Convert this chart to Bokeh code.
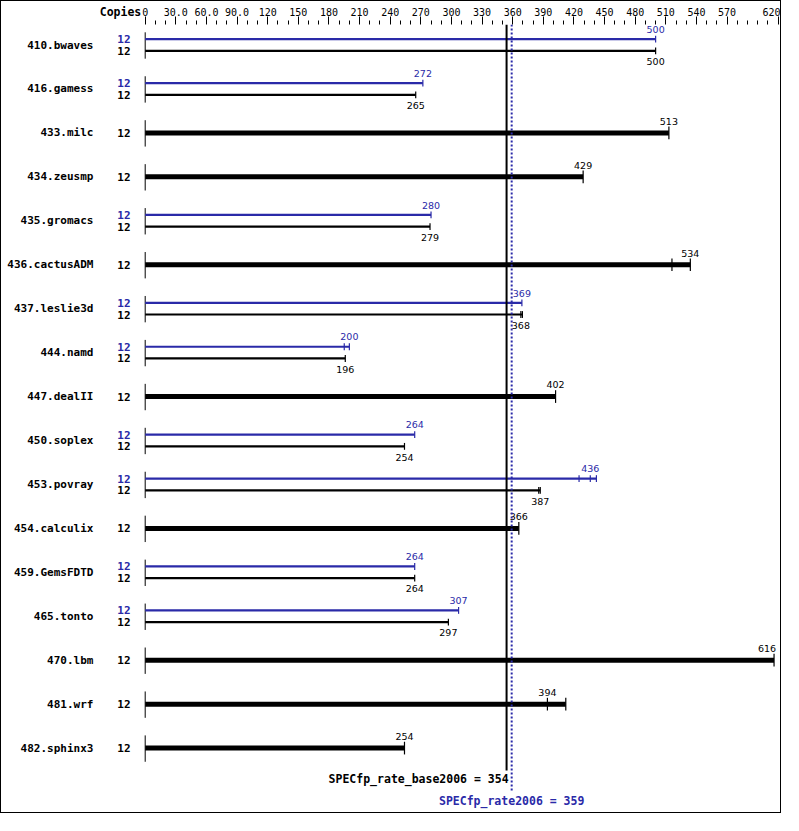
from bokeh.plotting import figure
from bokeh.models import Range1d, FixedTicker, LinearAxis
from bokeh.core.properties import value
from bokeh.embed import file_html
from bokeh.resources import INLINE

# ---- data ----
benchmarks = ["410.bwaves", "416.gamess", "433.milc", "434.zeusmp", "435.gromacs",
              "436.cactusADM", "437.leslie3d", "444.namd", "447.dealII", "450.soplex",
              "453.povray", "454.calculix", "459.GemsFDTD", "465.tonto", "470.lbm",
              "481.wrf", "482.sphinx3"]
base_copies = [12, 12, 12, 12, 12, 12, 12, 12, 12, 12, 12, 12, 12, 12, 12, 12, 12]
peak_copies = [12, 12, None, None, 12, None, 12, 12, None, 12, 12, None, 12, 12, None, None, None]
base_ratio = [500, 265, 513, 429, 279, 534, 368, 196, 402, 254, 387, 366, 264, 297, 616, 394, 254]
peak_ratio = [500, 272, None, None, 280, None, 369, 200, None, 264, 436, None, 264, 307, None, None, None]
# other individual run results (whisker ticks)
base_runs = [[], [], [], [], [], [516], [369.5], [], [], [], [385.5], [], [], [], [], [412], []]
peak_runs = [[], [], [], [], [], [], [], [195], [], [], [425, 442], [], [], [], [], [], []]
base_overall = 354
peak_overall = 359
base_metric = "SPECfp_rate_base2006"
peak_metric = "SPECfp_rate2006"
copies_header = "Copies"
tick_values = [0, 30, 60, 90, 120, 150, 180, 210, 240, 270, 300, 330, 360, 390, 420,
               450, 480, 510, 540, 570, 620]
tick_labels = ["0", "30.0", "60.0", "90.0", "120", "150", "180", "210", "240", "270",
               "300", "330", "360", "390", "420", "450", "480", "510", "540", "570", "620"]
minor_ticks = [v for v in range(10, 620, 10) if v not in tick_values]

BLUE = "#2a2aa8"
BLACK = "#000000"
W, H = 781, 813
S = W / 799.0          # scale from reference pixels to page pixels
PX_PER_UNIT = 1.0444   # reference pixels per ratio unit
ORIGIN = 147           # reference pixel of ratio 0
TOP = 22               # axis band height (reference px)
MONO = value("DejaVu Sans Mono")
SANS = value("DejaVu Sans")
X_MIN = -ORIGIN / PX_PER_UNIT
X_MAX = X_MIN + 799 / PX_PER_UNIT

p = figure(width=W, height=H,
           x_range=Range1d(X_MIN, X_MAX), y_range=Range1d(831, TOP),
           output_backend="svg", toolbar_location=None,
           x_axis_location=None, y_axis_location=None,
           min_border_left=0, min_border_right=0, min_border_bottom=0,
           min_border_top=round(TOP * S))
p.styles = {"border": "1px solid black"}
p.outline_line_color = None
p.grid.visible = False
p.background_fill_color = "white"
p.border_fill_color = "white"

# main top axis: tick marks and value labels
ax = LinearAxis(ticker=FixedTicker(ticks=tick_values, minor_ticks=minor_ticks))
ax.major_label_overrides = {v: l for v, l in zip(tick_values, tick_labels)}
ax.axis_line_color = None
ax.major_tick_out = 8
ax.major_tick_in = 0
ax.minor_tick_out = 4
ax.minor_tick_in = 0
ax.major_tick_line_color = BLACK
ax.minor_tick_line_color = BLACK
ax.major_label_standoff = 1
ax.major_label_text_font = "DejaVu Sans Mono"
ax.major_label_text_font_size = "10px"
ax.major_label_text_color = BLACK

# header axis: only the bold "Copies" caption, pulled down into the label row
copies_pos = (143 - 20.8 / S - ORIGIN) / PX_PER_UNIT
hdr = LinearAxis(ticker=FixedTicker(ticks=[copies_pos], minor_ticks=[]))
hdr.major_label_overrides = {copies_pos: copies_header}
hdr.axis_line_color = None
hdr.major_tick_out = 0
hdr.major_tick_in = 0
hdr.minor_tick_out = 0
hdr.minor_tick_in = 0
hdr.major_tick_line_color = None
hdr.minor_tick_line_color = None
hdr.major_label_standoff = -14
hdr.major_label_text_font = "DejaVu Sans Mono"
hdr.major_label_text_font_style = "bold"
hdr.major_label_text_font_size = "11.5px"
hdr.major_label_text_color = BLACK

p.add_layout(ax, "above")
p.add_layout(hdr, "above")

# row layout
centers = [43 + 45 * i for i in range(len(benchmarks))]

# name labels and row start ticks
p.text(x=[0] * len(benchmarks), y=centers, text=benchmarks, text_font=MONO,
       text_font_style="bold", text_font_size="11px", text_align="right",
       text_baseline="middle", x_offset=-(ORIGIN - 94) * S, color=BLACK)
p.segment(x0=[0] * len(centers), x1=[0] * len(centers),
          y0=[c - 13 for c in centers], y1=[c + 14 for c in centers],
          line_color=BLACK, line_width=1)

thin_bars = {"x1": [], "y": [], "c": []}
thick_bars = {"x1": [], "y": []}
caps = {"x": [], "y0": [], "y1": [], "c": []}
labels = {"x": [], "y": [], "t": [], "c": [], "a": [], "o": []}
copies = {"y": [], "t": [], "c": []}


def add_label(x, y, t, col):
    near_edge = x > X_MAX - 15
    labels["x"].append(x)
    labels["y"].append(y)
    labels["t"].append(t)
    labels["c"].append(col)
    labels["a"].append("right" if near_edge else "center")
    labels["o"].append(2 if near_edge else 0)


for i, c in enumerate(centers):
    b = base_ratio[i]
    pk = peak_ratio[i]
    if pk is None:
        runs = [b] + base_runs[i]
        thick_bars["x1"].append(max(runs))
        thick_bars["y"].append(c)
        for r in runs:
            caps["x"].append(r); caps["y0"].append(c - 6.5); caps["y1"].append(c + 6.5); caps["c"].append(BLACK)
        add_label(b, c - 12, str(b), BLACK)
        copies["y"].append(c); copies["t"].append(str(base_copies[i])); copies["c"].append(BLACK)
    else:
        yp, yb = c - 6, c + 6
        pruns = [pk] + peak_runs[i]
        bruns = [b] + base_runs[i]
        thin_bars["x1"] += [max(pruns), max(bruns)]
        thin_bars["y"] += [yp, yb]
        thin_bars["c"] += [BLUE, BLACK]
        for r in pruns:
            caps["x"].append(r); caps["y0"].append(yp - 3.5); caps["y1"].append(yp + 3.5); caps["c"].append(BLUE)
        for r in bruns:
            caps["x"].append(r); caps["y0"].append(yb - 3.5); caps["y1"].append(yb + 3.5); caps["c"].append(BLACK)
        add_label(pk, c - 16, str(pk), BLUE)
        add_label(b, c + 17, str(b), BLACK)
        copies["y"] += [yp, yb]
        copies["t"] += [str(peak_copies[i]), str(base_copies[i])]
        copies["c"] += [BLUE, BLACK]

p.segment(x0=[0] * len(thin_bars["y"]), x1=thin_bars["x1"], y0=thin_bars["y"], y1=thin_bars["y"],
          line_color=thin_bars["c"], line_width=2.2)
p.segment(x0=[0] * len(thick_bars["y"]), x1=thick_bars["x1"], y0=thick_bars["y"], y1=thick_bars["y"],
          line_color=BLACK, line_width=5)
p.segment(x0=caps["x"], x1=caps["x"], y0=caps["y0"], y1=caps["y1"], line_color=caps["c"], line_width=1.2)

p.text(x=labels["x"], y=labels["y"], text=labels["t"], text_color=labels["c"], text_font=SANS,
       text_font_size="9.5px", text_align=labels["a"], x_offset=labels["o"], text_baseline="middle")
p.text(x=[0] * len(copies["y"]), y=copies["y"], text=copies["t"], text_color=copies["c"], text_font=MONO,
       text_font_style="bold", text_font_size="11px", text_align="right", text_baseline="middle",
       x_offset=-(ORIGIN - 132) * S)

# overall reference lines
p.segment(x0=[base_overall], x1=[base_overall], y0=[TOP], y1=[786], line_color=BLACK, line_width=2)
p.segment(x0=[peak_overall], x1=[peak_overall], y0=[TOP], y1=[808], line_color=BLUE, line_width=2,
          line_dash="2 2")
p.text(x=[base_overall], y=[795], text=[f"{base_metric} = {base_overall}"], text_font=MONO,
       text_font_style="bold", text_font_size="11.5px", text_align="right", text_baseline="middle",
       x_offset=2, color=BLACK)
p.text(x=[peak_overall], y=[817], text=[f"{peak_metric} = {peak_overall}"], text_font=MONO,
       text_font_style="bold", text_font_size="11.5px", text_align="center", text_baseline="middle",
       color=BLUE)

open("out.html", "w").write(file_html(p, INLINE))
